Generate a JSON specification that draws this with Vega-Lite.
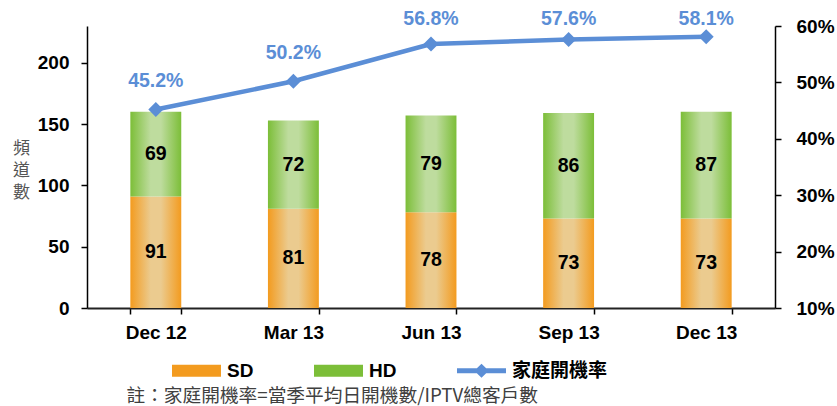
{
  "$schema": "https://vega.github.io/schema/vega-lite/v6.json",
  "autosize": {"type": "none"},
  "width": 688,
  "height": 282,
  "padding": {"left": 87, "top": 26, "right": 62, "bottom": 98},
  "background": "#ffffff",
  "config": {
    "view": {"stroke": null},
    "axis": {"grid": false, "domainColor": "#000", "domainWidth": 1.5, "tickColor": "#000", "tickWidth": 1.5, "labelFont": "Liberation Sans", "labelColor": "#000"},
    "font": "Liberation Sans"
  },
  "datasets": {
    "bars": [
      {"date": "Dec 12", "series": "SD", "value": 91},
      {"date": "Dec 12", "series": "HD", "value": 69},
      {"date": "Mar 13", "series": "SD", "value": 81},
      {"date": "Mar 13", "series": "HD", "value": 72},
      {"date": "Jun 13", "series": "SD", "value": 78},
      {"date": "Jun 13", "series": "HD", "value": 79},
      {"date": "Sep 13", "series": "SD", "value": 73},
      {"date": "Sep 13", "series": "HD", "value": 86},
      {"date": "Dec 13", "series": "SD", "value": 73},
      {"date": "Dec 13", "series": "HD", "value": 87}
    ],
    "rate": [
      {"date": "Dec 12", "rate": 0.452},
      {"date": "Mar 13", "rate": 0.502},
      {"date": "Jun 13", "rate": 0.568},
      {"date": "Sep 13", "rate": 0.576},
      {"date": "Dec 13", "rate": 0.581}
    ]
  },
  "layer": [
    {
      "data": {"name": "bars"},
      "layer": [
        {
          "transform": [
            {"stack": "value", "groupby": ["date"], "sort": [{"field": "series", "order": "descending"}], "as": ["v0", "v1"]},
            {"filter": "datum.series === 'SD'"}
          ],
          "mark": {"type": "bar", "fill": {"gradient": "linear", "x1": 0, "x2": 1, "y1": 0, "y2": 0, "stops": [{"offset": 0, "color": "#F39B1F"}, {"offset": 0.4, "color": "#EBCB8F"}, {"offset": 0.6, "color": "#EBCB8F"}, {"offset": 1, "color": "#F39B1F"}]}},
          "encoding": {
            "x": {
              "field": "date", "type": "ordinal",
              "sort": ["Dec 12", "Mar 13", "Jun 13", "Sep 13", "Dec 13"],
              "scale": {"paddingInner": 0.63, "paddingOuter": 0.315},
              "axis": {
                "title": "註：家庭開機率=當季平均日開機數/IPTV總客戶數",
                "labelAngle": 0, "labelFontSize": 19, "labelFontWeight": "bold", "labelPadding": 9,
                "tickBand": "extent", "tickSize": 6, "domainColor": "#222", "domainWidth": 2,
                "titleFont": "Noto Sans CJK TC", "titleFontSize": 18.7, "titleFontWeight": "normal", "titleColor": "#404040",
                "titleX": 39, "titleY": 87, "titleAlign": "left", "titleBaseline": "middle"
              }
            },
            "y": {
              "field": "v0", "type": "quantitative",
              "scale": {"domain": [0, 230], "nice": false},
              "axis": {
                "title": ["頻", "道", "數"], "titleAngle": 0, "titleX": -66, "titleY": 122,
                "titleAlign": "center", "titleBaseline": "middle", "titleFont": "Noto Sans CJK TC",
                "titleFontSize": 17, "titleFontWeight": "normal", "titleColor": "#555555", "titleLineHeight": 22,
                "values": [0, 50, 100, 150, 200], "labelFontSize": 19, "labelFontWeight": "bold",
                "labelPadding": 12, "tickSize": 6
              }
            },
            "y2": {"field": "v1"}
          }
        },
        {
          "transform": [
            {"stack": "value", "groupby": ["date"], "sort": [{"field": "series", "order": "descending"}], "as": ["v0", "v1"]},
            {"filter": "datum.series === 'HD'"}
          ],
          "mark": {"type": "bar", "fill": {"gradient": "linear", "x1": 0, "x2": 1, "y1": 0, "y2": 0, "stops": [{"offset": 0, "color": "#7CBE38"}, {"offset": 0.4, "color": "#BEDC9E"}, {"offset": 0.6, "color": "#BEDC9E"}, {"offset": 1, "color": "#7CBE38"}]}},
          "encoding": {
            "x": {"field": "date", "type": "ordinal", "sort": ["Dec 12", "Mar 13", "Jun 13", "Sep 13", "Dec 13"]},
            "y": {"field": "v0", "type": "quantitative"},
            "y2": {"field": "v1"}
          }
        },
        {
          "transform": [
            {"stack": "value", "groupby": ["date"], "sort": [{"field": "series", "order": "descending"}], "as": ["v0", "v1"]},
            {"fold": ["v0", "v1"], "as": ["edge", "pos"]},
            {"aggregate": [{"op": "mean", "field": "pos", "as": "mid"}], "groupby": ["date", "series", "value"]}
          ],
          "mark": {"type": "text", "fontSize": 19.5, "fontWeight": "bold", "color": "#000", "baseline": "middle", "font": "Liberation Sans"},
          "encoding": {
            "x": {"field": "date", "type": "ordinal", "sort": ["Dec 12", "Mar 13", "Jun 13", "Sep 13", "Dec 13"]},
            "y": {"field": "mid", "type": "quantitative"},
            "text": {"field": "value", "type": "quantitative"}
          }
        },
        {
          "mark": {"type": "point", "filled": true, "opacity": 0},
          "encoding": {
            "x": {"field": "date", "type": "ordinal", "sort": ["Dec 12", "Mar 13", "Jun 13", "Sep 13", "Dec 13"]},
            "y": {"field": "value", "type": "quantitative"},
            "color": {
              "field": "series", "type": "nominal",
              "scale": {"domain": ["SD", "HD", "家庭開機率"], "range": ["#F39B1F", "#7CBE38", "#5B8ED6"]},
              "legend": {
                "orient": "none", "legendX": 85, "legendY": 320, "direction": "horizontal", "title": null,
                "symbolSize": 2401, "labelFontSize": 19, "labelFontWeight": "bold",
                "labelFont": "Liberation Sans, Noto Sans CJK TC", "labelColor": "#000", "labelOffset": 6,
                "columnPadding": 60, "symbolStrokeWidth": 0, "symbolOpacity": 1, "padding": 0,
                "encode": {"symbols": {"update": {
                  "opacity": {"value": 1},
                  "fill": [
                    {"test": "datum.value === 'SD'", "value": {"gradient": "linear", "x1": 0, "x2": 1, "y1": 0, "y2": 0, "stops": [{"offset": 0, "color": "#F39B1F"}, {"offset": 0.7, "color": "#EBCB8F"}, {"offset": 1, "color": "#EBCB8F"}]}},
                    {"test": "datum.value === 'HD'", "value": {"gradient": "linear", "x1": 0, "x2": 1, "y1": 0, "y2": 0, "stops": [{"offset": 0, "color": "#7CBE38"}, {"offset": 0.7, "color": "#BEDC9E"}, {"offset": 1, "color": "#BEDC9E"}]}},
                    {"value": "#5B8ED6"}
                  ]
                }}}
              }
            },
            "shape": {
              "field": "series", "type": "nominal",
              "scale": {"domain": ["SD", "HD", "家庭開機率"], "range": ["M-1,-0.245H1V0.245H-1Z", "M-1,-0.245H1V0.245H-1Z", "M-1,-0.1H-0.19L0,-0.29L0.19,-0.1H1V0.1H0.19L0,0.29L-0.19,0.1H-1Z"]}
            }
          }
        }
      ]
    },
    {
      "data": {"name": "rate"},
      "layer": [
        {
          "encoding": {
            "x": {"field": "date", "type": "ordinal", "sort": ["Dec 12", "Mar 13", "Jun 13", "Sep 13", "Dec 13"]},
            "y": {
              "field": "rate", "type": "quantitative",
              "scale": {"domain": [0.1, 0.6], "nice": false, "zero": false},
              "axis": {"orient": "right", "title": null, "values": [0.1, 0.2, 0.3, 0.4, 0.5, 0.6], "format": ".0%",
                "labelFontSize": 19, "labelFontWeight": "bold", "labelPadding": 15, "tickSize": 6}
            }
          },
          "layer": [
            {"mark": {"type": "line", "color": "#5B8ED6", "strokeWidth": 4.5}},
            {"mark": {"type": "point", "shape": "diamond", "filled": true, "color": "#5B8ED6", "size": 225, "opacity": 1}}
          ]
        },
        {
          "mark": {"type": "text", "fontSize": 19.5, "fontWeight": "bold", "color": "#5B8ED6", "baseline": "middle", "font": "Liberation Sans"},
          "encoding": {
            "x": {"field": "date", "type": "ordinal", "sort": ["Dec 12", "Mar 13", "Jun 13", "Sep 13", "Dec 13"]},
            "y": {"field": "rate", "type": "quantitative", "scale": {"domain": [0.1, 0.5628], "range": [254, -7], "clamp": true, "nice": false, "zero": false}, "axis": null},
            "text": {"field": "rate", "type": "quantitative", "format": ".1%"}
          }
        }
      ],
      "resolve": {"scale": {"y": "independent"}}
    }
  ],
  "resolve": {"scale": {"y": "independent"}}
}
